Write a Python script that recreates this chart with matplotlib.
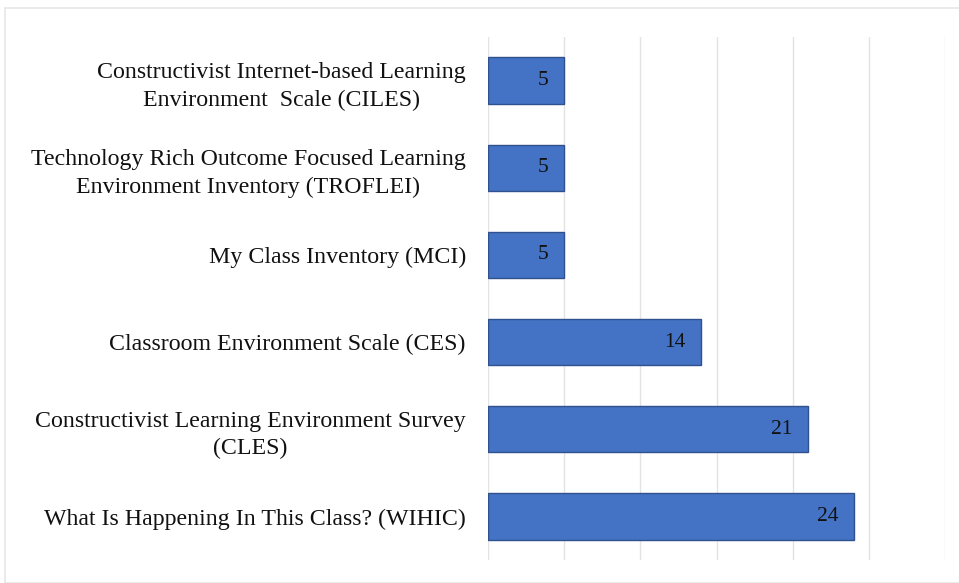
import matplotlib
matplotlib.use("Agg")
import matplotlib.pyplot as plt
from matplotlib.patches import Rectangle

categories = [
    "What Is Happening In This Class? (WIHIC)",
    "Constructivist Learning Environment Survey\n(CLES)",
    "Classroom Environment Scale (CES)",
    "My Class Inventory (MCI)",
    "Technology Rich Outcome Focused Learning\nEnvironment Inventory (TROFLEI)",
    "Constructivist Internet-based Learning\nEnvironment  Scale (CILES)",
]
values = [24, 21, 14, 5, 5, 5]
xticks = [0, 5, 10, 15, 20, 25, 30]

plt.rcParams['font.family'] = ['Liberation Serif', 'DejaVu Serif']

fig = plt.figure(figsize=(9.59, 5.83), dpi=100)
ax = fig.add_axes([488/959, 1-560/583, (945-488)/959, (560-37)/583])

y = list(range(len(categories)))
bars = ax.barh(y, values, height=0.53, color='#4472C4', edgecolor='#2F528F', linewidth=1, zorder=3)

for yi, v in zip(y, values):
    ax.text(v - 1.0, yi, str(v), ha='right', va='center', fontsize=15.5, color='#111111', zorder=4)

ax.set_xlim(0, 30)
ax.set_ylim(-0.5, len(categories) - 0.5)
ax.set_xticks(xticks)
ax.set_xticklabels([])
ax.tick_params(axis='x', length=0)
ax.xaxis.grid(True, color='#E3E3E3', linewidth=1, zorder=0)
ax.set_yticks(y)
ax.set_yticklabels(categories, fontsize=17.2, color='#111111', multialignment='center',
                   linespacing=1.4)
ax.tick_params(axis='y', length=0, pad=16)
for s in ax.spines.values():
    s.set_visible(False)

fig.patches.append(Rectangle((5/959, 0.0), 1, 1-8/583, transform=fig.transFigure,
                             fill=False, edgecolor='#E6E6E6', linewidth=1.2))

fig.savefig("out.png", dpi=100)
